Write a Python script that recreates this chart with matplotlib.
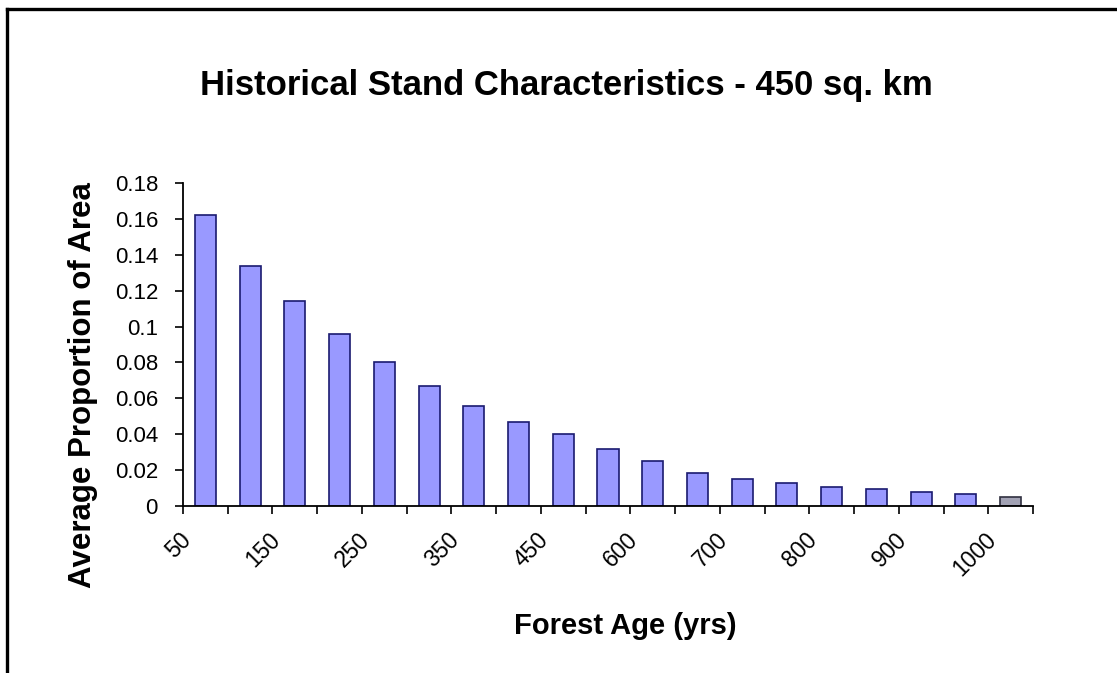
import matplotlib
matplotlib.use("Agg")
import matplotlib.pyplot as plt
from matplotlib.lines import Line2D
from matplotlib.transforms import ScaledTranslation
import numpy as np

# Forest age classes (years) and average proportion of area in each class
ages = [50, 100, 150, 200, 250, 300, 350, 400, 450, 500,
        600, 650, 700, 750, 800, 850, 900, 950, 1000]
proportion = [0.162, 0.134, 0.114, 0.096, 0.080, 0.067, 0.0555, 0.0466, 0.040, 0.0318,
              0.0253, 0.0182, 0.0149, 0.0126, 0.0104, 0.0095, 0.0076, 0.0065, 0.0052]
yticks = [0, 0.02, 0.04, 0.06, 0.08, 0.1, 0.12, 0.14, 0.16, 0.18]
ytick_labels = ["0", "0.02", "0.04", "0.06", "0.08", "0.1", "0.12", "0.14", "0.16", "0.18"]

plt.rcParams["font.family"] = ["Liberation Sans", "DejaVu Sans"]

W, H, DPI = 1117, 673, 100
fig = plt.figure(figsize=(W / DPI, H / DPI), dpi=DPI)
fig.patch.set_facecolor("white")

ax = fig.add_axes([183 / W, 1 - 506 / H, 850 / W, 323 / H])

x = np.arange(len(ages))
colors = ["#9999ff"] * (len(ages) - 1) + ["#a2a2b4"]
edges = ["#1a1a70"] * (len(ages) - 1) + ["#303040"]
ax.bar(x, proportion, width=0.47, color=colors, edgecolor=edges, linewidth=1.2, zorder=2)

ax.set_xlim(-0.5, len(ages) - 0.5)
ax.set_ylim(0, 0.18)

# y axis
ax.set_yticks(yticks)
ax.set_yticklabels(ytick_labels, fontsize=16)
ax.tick_params(axis="y", direction="out", length=6, width=1.2, pad=12)

# x axis: category separators as ticks, labels on every other category
ax.set_xticks(np.arange(-0.5, len(ages), 1.0), minor=True)
ax.tick_params(axis="x", which="minor", direction="out", length=6, width=1.2)
ax.set_xticks(x)
ax.set_xticklabels([str(a) if i % 2 == 0 else "" for i, a in enumerate(ages)],
                   rotation=45, ha="right", va="top", fontsize=16.5)
ax.tick_params(axis="x", which="major", length=0, pad=16)
shift = ScaledTranslation(-10 / DPI, 0, fig.dpi_scale_trans)
for lbl in ax.get_xticklabels():
    lbl.set_transform(lbl.get_transform() + shift)

for side in ("top", "right"):
    ax.spines[side].set_visible(False)
for side in ("left", "bottom"):
    ax.spines[side].set_linewidth(1.3)
    ax.spines[side].set_color("black")

# axis titles placed in figure coordinates
fig.text(625 / W, 1 - 626 / H, "Forest Age (yrs)", ha="center", va="center",
         fontsize=21, fontweight="bold")
fig.text(83 / W, 1 - 385 / H, "Average Proportion of Area", ha="center", va="center",
         rotation=90, fontsize=22.5, fontweight="bold")

fig.text(566 / W, 1 - 86 / H, "Historical Stand Characteristics - 450 sq. km",
         ha="center", va="center", fontsize=25, fontweight="bold")

# outer frame: top and left edges
fig.add_artist(Line2D([7 / W, 1.0], [1 - 9 / H, 1 - 9 / H], color="black", linewidth=2.4,
                      transform=fig.transFigure))
fig.add_artist(Line2D([7 / W, 7 / W], [1 - 9 / H, 0.0], color="black", linewidth=2.4,
                      transform=fig.transFigure))

fig.savefig("out.png", dpi=DPI)
